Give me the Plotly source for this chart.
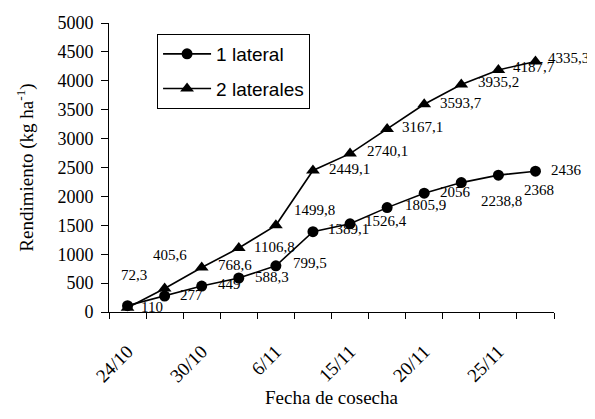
import plotly.graph_objects as go

# ---- data ----
harvest = [1, 2, 3, 4, 5, 6, 7, 8, 9, 10, 11, 12]
one_lateral = [110, 277, 449, 588.3, 799.5, 1389.1, 1526.4, 1805.9, 2056, 2238.8, 2368, 2436]
two_laterals = [72.3, 405.6, 768.6, 1106.8, 1499.8, 2449.1, 2740.1, 3167.1, 3593.7, 3935.2, 4187.7, 4335.3]
tick_harvest = [1, 3, 5, 7, 9, 11]
tick_labels = ["24/10", "30/10", "6/11", "15/11", "20/11", "25/11"]
series_names = ["1 lateral", "2 laterales"]

# ---- label offsets (px) ----
off_one = [(24, -1), (27, 1), (28, 2), (33, 1), (34, 3), (36, 3), (36, 3), (38, 3),
           (31, 1), (40, -18), (41, -15), (31, 1)]
off_two = [(6, 33), (5, 34), (33, 3), (36, 1), (39, 15), (37, 1), (37, 3), (35, 2),
           (37, 1), (37, 3), (36, 3), (33, 3)]


def fmt(v):
    s = ("%.1f" % v)
    if s.endswith(".0"):
        s = s[:-2]
    return s.replace(".", ",")


serif = "Liberation Serif"
sans = "Liberation Sans"

fig = go.Figure()
fig.add_trace(go.Scatter(
    x=harvest, y=one_lateral, name=series_names[0], mode="lines+markers",
    line=dict(color="black", width=1.6),
    marker=dict(symbol="circle", size=11, color="black"),
    legendgroup="a"))
fig.add_trace(go.Scatter(
    x=harvest, y=two_laterals, name=series_names[1], mode="lines+markers",
    line=dict(color="black", width=1.6),
    marker=dict(symbol="triangle-up", size=12, color="black"),
    legendgroup="b"))

anns = []
for xs, ys, offs in [(harvest, one_lateral, off_one), (harvest, two_laterals, off_two)]:
    for xv, yv, (dx, dy) in zip(xs, ys, offs):
        anns.append(dict(x=xv, y=yv, xref="x", yref="y", text=fmt(yv), showarrow=False,
                         xshift=dx, yshift=dy, xanchor="center", yanchor="middle",
                         font=dict(family=serif, size=15, color="black")))

# page has an 8px body margin: figure is sized/margined to compensate
fig.update_layout(
    width=587, height=411,
    margin=dict(l=101, r=41, t=15, b=107),
    paper_bgcolor="white", plot_bgcolor="white",
    annotations=anns,
    showlegend=True,
    legend=dict(x=0.108, y=0.962, xanchor="left", yanchor="top",
                bordercolor="black", borderwidth=1, bgcolor="white",
                font=dict(family=sans, size=19, color="black"),
                tracegroupgap=7, itemwidth=48),
    xaxis=dict(
        range=[0.5, 12.5], showgrid=False, zeroline=False, automargin=False,
        showline=True, linecolor="black", linewidth=1,
        tickmode="array", tickvals=tick_harvest, ticktext=tick_labels,
        ticks="", tickangle=-45, ticklabelstandoff=20,
        tickfont=dict(family=serif, size=19, color="black"),
        minor=dict(tickmode="array", tickvals=[h - 0.5 for h in harvest] + [harvest[-1] + 0.5],
                   ticks="outside", ticklen=6, tickcolor="black", showgrid=False),
        title=dict(text="Fecha de cosecha", font=dict(family=serif, size=19, color="black"),
                   standoff=5),
    ),
    yaxis=dict(
        range=[0, 5000], dtick=500, showgrid=False, zeroline=False, automargin=False,
        showline=True, linecolor="black", linewidth=1,
        ticks="outside", ticklen=7, tickcolor="black", ticklabelstandoff=4,
        tickfont=dict(family=serif, size=18, color="black"),
        title=dict(text="Rendimiento (kg ha<sup>-1</sup>)",
                   font=dict(family=serif, size=19, color="black"), standoff=18),
    ),
)

fig.write_html("out.html")
